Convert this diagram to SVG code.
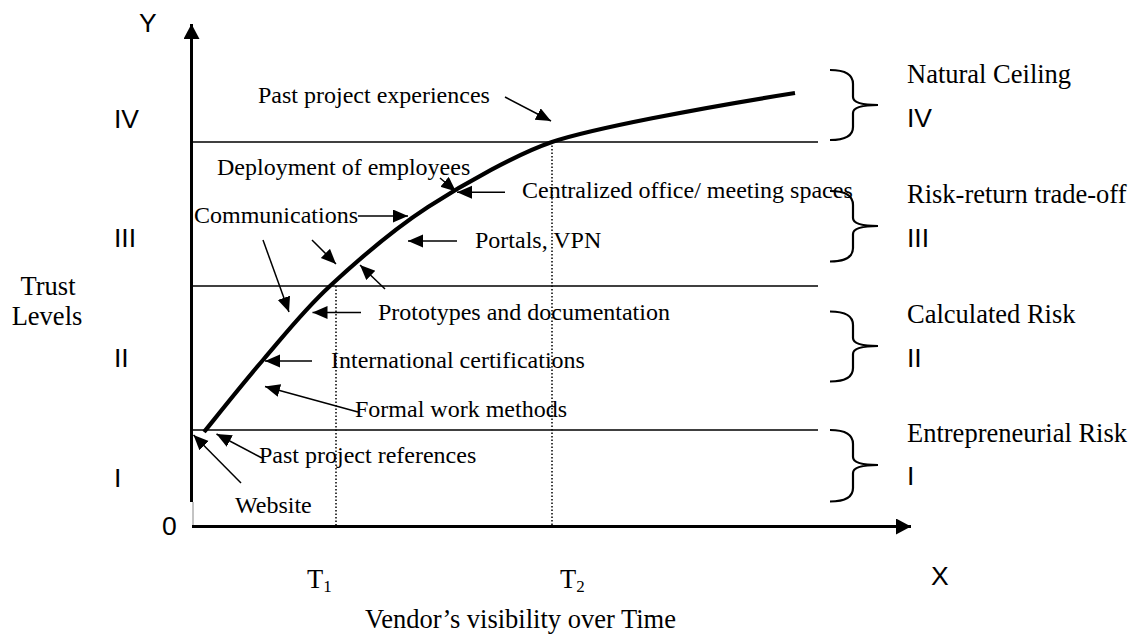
<svg xmlns="http://www.w3.org/2000/svg" width="1140" height="637" viewBox="0 0 1140 637">
<style>
.serif{font-family:"Liberation Serif","Times New Roman",serif;fill:#000}
.in{font-size:24px}
.big{font-size:26.5px}
.sans{font-family:"Liberation Sans",Arial,sans-serif;font-size:26.5px;fill:#000}
.band{stroke:#000;stroke-width:1.5;fill:none}
.dot{stroke:#000;stroke-width:1.5;stroke-dasharray:1.5 2;fill:none}
.arr{stroke:#000;stroke-width:1.5;fill:none;marker-end:url(#ah)}
.brace{stroke:#000;stroke-width:2.2;fill:none}
</style>
<defs>
<marker id="ah" markerUnits="userSpaceOnUse" markerWidth="16" markerHeight="14" refX="15" refY="6.5" orient="auto"><path d="M0,0 L15,6.5 L0,13 z" fill="#000"/></marker>
<marker id="axh" markerUnits="userSpaceOnUse" markerWidth="16" markerHeight="16" refX="15" refY="8" orient="auto"><path d="M0,0 L15,8 L0,16 z" fill="#000"/></marker>
</defs>
<rect width="1140" height="637" fill="#fff"/>

<g id="axes">
<line x1="191.5" y1="502" x2="191.5" y2="24" stroke="#000" stroke-width="3" marker-end="url(#axh)"/>
<line x1="193" y1="502" x2="193" y2="526" stroke="#888" stroke-width="1"/>
<line x1="192" y1="526.5" x2="911" y2="526.5" stroke="#000" stroke-width="3" marker-end="url(#axh)"/>
</g>

<g id="bands">
<line class="band" x1="192" y1="142" x2="818" y2="142"/>
<line class="band" x1="192" y1="286" x2="818" y2="286"/>
<line class="band" x1="192" y1="430" x2="818" y2="430"/>
<line class="dot" x1="336" y1="286" x2="336" y2="526"/>
<line class="dot" x1="552" y1="142" x2="552" y2="526"/>
</g>

<g id="curve">
<path d="M204,432 C213.8,420 242,384.3 263,360 C284,335.7 302.5,311.5 330,286 C357.5,260.5 391,231 428,207 C465,183 517.8,153.7 552,142 C590,129 700,108 795,93" stroke="#000" stroke-width="4.2" fill="none"/>
</g>

<g id="connectors">
<line class="arr" x1="505" y1="97" x2="551" y2="121"/>
<line class="arr" x1="440" y1="178" x2="456" y2="191.5"/>
<line class="arr" x1="505" y1="192.3" x2="457" y2="192.3"/>
<line class="arr" x1="358" y1="216" x2="408" y2="216"/>
<line class="arr" x1="457" y1="241" x2="408" y2="241"/>
<line class="arr" x1="312" y1="240" x2="336" y2="264"/>
<line class="arr" x1="263" y1="240" x2="289" y2="312"/>
<line class="arr" x1="361" y1="312.5" x2="312.5" y2="312.5"/>
<line class="arr" x1="385" y1="289" x2="360" y2="265"/>
<line class="arr" x1="312" y1="361" x2="265" y2="361"/>
<line class="arr" x1="358" y1="412" x2="265" y2="386.5"/>
<line class="arr" x1="262" y1="458" x2="216.5" y2="434"/>
<line class="arr" x1="241" y1="483" x2="193.5" y2="435"/>
</g>

<g id="braces">
<path class="brace" d="M830,70 Q853,70 853,84 L853,97 Q853,105 878,105 Q853,105 853,113 L853,127 Q853,140 830,140"/>
<path class="brace" d="M830,191 Q853,191 853,205 L853,218 Q853,226 878,226 Q853,226 853,234 L853,248 Q853,261.5 830,261.5"/>
<path class="brace" d="M830,311.5 Q853,311.5 853,325 L853,338 Q853,346 878,346 Q853,346 853,354 L853,368 Q853,381.5 830,381.5"/>
<path class="brace" d="M830,430 Q853,430 853,444 L853,457 Q853,465 878,465 Q853,465 853,473 L853,488 Q853,501.5 830,501.5"/>
</g>

<g id="axis-labels">
<text class="sans" x="139" y="32">Y</text>
<text class="sans" x="931" y="585">X</text>
<text class="sans" x="162" y="535">0</text>
<text class="sans" x="114" y="128">IV</text>
<text class="sans" x="114" y="247">III</text>
<text class="sans" x="114" y="367">II</text>
<text class="sans" x="114" y="487">I</text>
<text class="serif big" x="48" y="295" text-anchor="middle">Trust</text>
<text class="serif big" x="47" y="325" text-anchor="middle">Levels</text>
<text class="serif big" x="307" y="588">T<tspan font-size="17" dy="4">1</tspan></text>
<text class="serif big" x="560" y="588">T<tspan font-size="17" dy="4">2</tspan></text>
<text class="serif big" x="365" y="628">Vendor’s visibility over Time</text>
</g>

<g id="level-labels">
<text class="serif big" x="907" y="83">Natural Ceiling</text>
<text class="sans" x="907" y="127">IV</text>
<text class="serif big" x="907" y="203">Risk-return trade-off</text>
<text class="sans" x="907" y="247">III</text>
<text class="serif big" x="907" y="323">Calculated Risk</text>
<text class="sans" x="907" y="367">II</text>
<text class="serif big" x="907" y="442">Entrepreneurial Risk</text>
<text class="sans" x="907" y="485">I</text>
</g>

<g id="factor-labels">
<text class="serif in" x="258" y="103">Past project experiences</text>
<text class="serif in" x="217" y="175">Deployment of employees</text>
<text class="serif in" x="522" y="198">Centralized office/ meeting spaces</text>
<text class="serif in" x="194" y="223">Communications</text>
<text class="serif in" x="475" y="248">Portals, VPN</text>
<text class="serif in" x="378" y="320">Prototypes and documentation</text>
<text class="serif in" x="331" y="368">International certifications</text>
<text class="serif in" x="355" y="417">Formal work methods</text>
<text class="serif in" x="259" y="463">Past project references</text>
<text class="serif in" x="235" y="513">Website</text>
</g>
</svg>
